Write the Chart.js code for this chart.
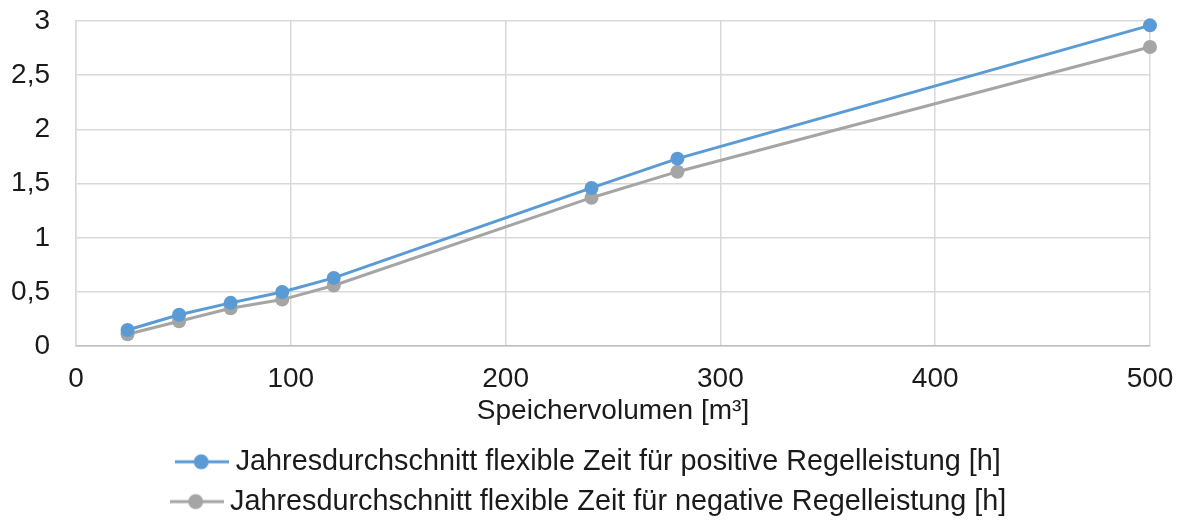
<!DOCTYPE html>
<html>
<head>
<meta charset="utf-8">
<script src="https://cdn.jsdelivr.net/npm/chart.js@4"></script>
<style>
  html, body { margin: 0; padding: 0; background: #ffffff; }
  #wrap { width: 1184px; height: 520px; }
</style>
</head>
<body>
<div id="wrap"><canvas id="chart" width="1184" height="520"></canvas></div>
<script>
// Speichervolumen [m³]
const volumes = [24, 48, 72, 96, 120, 240, 280, 500];
// Jahresdurchschnitt flexible Zeit [h]
const positiveHours = [0.15, 0.29, 0.40, 0.50, 0.63, 1.46, 1.73, 2.96];
const negativeHours = [0.11, 0.23, 0.35, 0.43, 0.56, 1.37, 1.61, 2.76];
const seriesNames = [
  'Jahresdurchschnitt flexible Zeit für positive Regelleistung [h]',
  'Jahresdurchschnitt flexible Zeit für negative Regelleistung [h]'
];
const xTicks = [0, 100, 200, 300, 400, 500];
const yTicks = [0, 0.5, 1, 1.5, 2, 2.5, 3];

const BLUE = '#5b9bd5';
const GREY = '#a5a5a5';
const TEXT = '#1a1a1a';
const FONT = '"Liberation Sans", Arial, sans-serif';

// legend marker: short line with a dot in the middle
function legendMarker(color) {
  const c = document.createElement('canvas');
  c.width = 54; c.height = 18;
  const g = c.getContext('2d');
  g.strokeStyle = color; g.lineWidth = 3;
  g.beginPath(); g.moveTo(0, 9); g.lineTo(54, 9); g.stroke();
  g.fillStyle = color;
  g.beginPath(); g.arc(26, 9, 7.5, 0, Math.PI * 2); g.fill();
  return c;
}

function toPoints(xs, ys) { return xs.map((x, i) => ({ x: x, y: ys[i] })); }

const comma = v => String(v).replace('.', ',');

new Chart(document.getElementById('chart'), {
  type: 'line',
  data: {
    datasets: [
      {
        label: seriesNames[0],
        data: toPoints(volumes, positiveHours),
        borderColor: BLUE, backgroundColor: BLUE,
        borderWidth: 3, pointRadius: 7, pointBorderWidth: 0,
        pointStyle: 'circle', clip: false,
        legendMarker: legendMarker(BLUE), order: 1
      },
      {
        label: seriesNames[1],
        data: toPoints(volumes, negativeHours),
        borderColor: GREY, backgroundColor: GREY,
        borderWidth: 3, pointRadius: 7, pointBorderWidth: 0,
        pointStyle: 'circle', clip: false,
        legendMarker: legendMarker(GREY), order: 2
      }
    ]
  },
  options: {
    responsive: false,
    animation: false,
    layout: { padding: { top: 21, right: 8, left: 8, bottom: -6 } },
    scales: {
      x: {
        type: 'linear', min: 0, max: 500,
        afterBuildTicks: axis => { axis.ticks = xTicks.map(v => ({ value: v })); },
        afterFit: axis => { axis.paddingLeft = 0; axis.paddingRight = 34; },
        ticks: { color: TEXT, font: { family: FONT, size: 28 }, padding: 16, callback: v => comma(v) },
        grid: { color: '#d9d9d9', lineWidth: 1.5, drawTicks: false },
        border: { color: '#bfbfbf', width: 1.5 },
        title: { display: true, text: 'Speichervolumen [m³]', color: TEXT,
                 font: { family: FONT, size: 28 }, padding: { top: -17, bottom: 8 } }
      },
      y: {
        min: 0, max: 3,
        afterBuildTicks: axis => { axis.ticks = yTicks.map(v => ({ value: v })); },
        afterFit: axis => { axis.width = 68; axis.paddingTop = 0; axis.paddingBottom = 0; },
        ticks: { color: TEXT, font: { family: FONT, size: 28 }, padding: 26, callback: v => comma(v) },
        grid: { color: '#d9d9d9', lineWidth: 1.5, drawTicks: false },
        border: { color: '#d9d9d9', width: 1.5 }
      }
    },
    plugins: {
      legend: {
        position: 'bottom',
        labels: {
          color: TEXT,
          font: { family: FONT, size: 28.8 },
          usePointStyle: true,
          pointStyleWidth: 38,
          padding: 11,
          generateLabels: chart => chart.data.datasets.map((ds, i) => ({
            text: ds.label,
            pointStyle: ds.legendMarker,
            fillStyle: ds.borderColor,
            strokeStyle: ds.borderColor,
            lineWidth: 0,
            fontColor: TEXT,
            hidden: false,
            datasetIndex: i
          }))
        }
      },
      tooltip: { enabled: false }
    }
  }
});
</script>
</body>
</html>
